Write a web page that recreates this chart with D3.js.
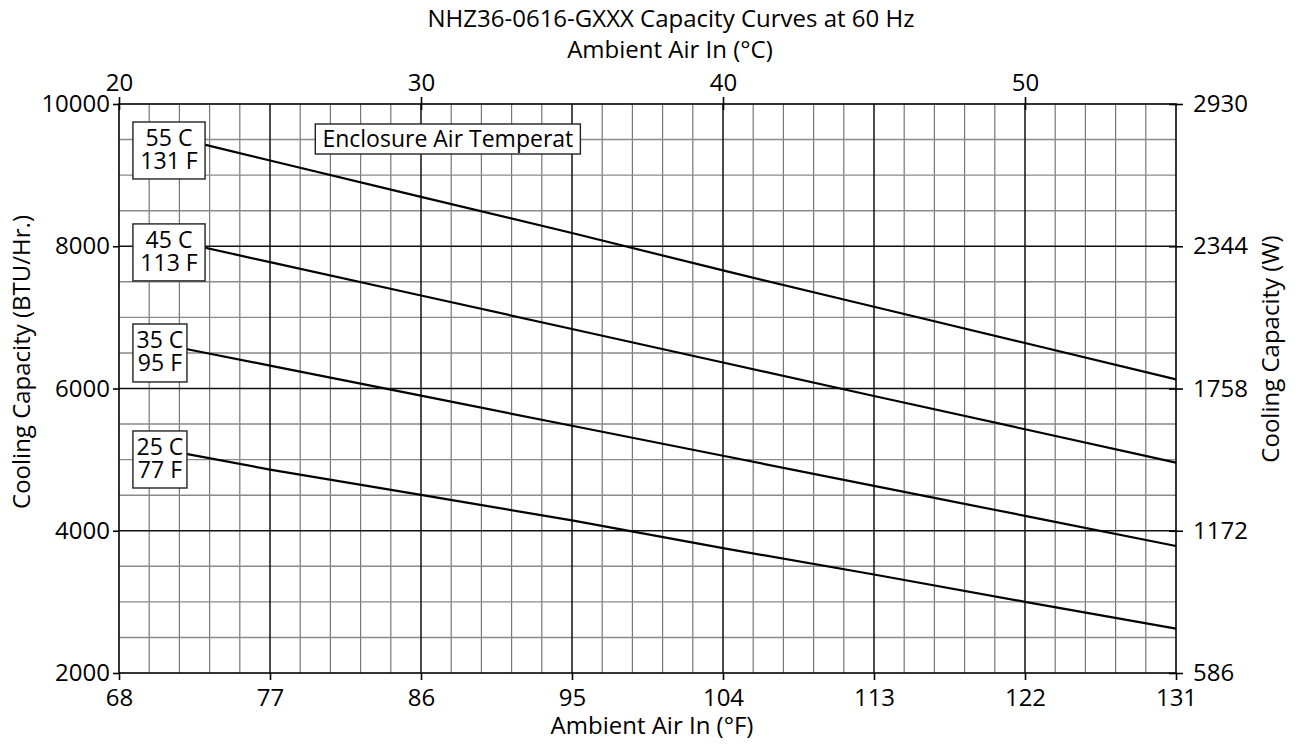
<!DOCTYPE html>
<html><head><meta charset="utf-8">
<script src="https://cdn.jsdelivr.net/npm/d3@7"></script>
<style>
body{margin:0;background:#fff;}
text{font-family:"Open Sans",sans-serif;fill:#000;}
</style></head>
<body><svg id="chart" width="1299" height="744"></svg>
<script>
// ---- data ----
const tempF = [72, 77, 86, 95, 104, 113, 122, 131];
const cap55C = [9492, 9205, 8695, 8186, 7660, 7150, 6640, 6129];
const cap45C = [8038, 7777, 7307, 6837, 6365, 5895, 5427, 4957];
const cap35C = [6556, 6321, 5899, 5476, 5054, 4631, 4209, 3786];
const cap25C = [5080, 4860, 4505, 4145, 3755, 3385, 3000, 2623];
const seriesNames = ["55 C|131 F", "45 C|113 F", "35 C|95 F", "25 C|77 F"];
const xTicksF = [68, 77, 86, 95, 104, 113, 122, 131];
const xTicksC = [20, 30, 40, 50];
const yTicksBTU = [2000, 4000, 6000, 8000, 10000];
const yTicksW = ["586", "1172", "1758", "2344", "2930"];
// label boxes in data units: [leftF, rightF, topBTU, bottomBTU]
const boxes = [
  [68.83, 73.13, 9747, 8946],
  [68.83, 73.13, 8314, 7513],
  [68.83, 72.05, 6907, 6092],
  [68.83, 72.05, 5403, 4601]
];
const noteText = "Enclosure Air Temperat";
const noteBox = [79.7, 95.5, 9719, 9297];

const svg = d3.select("#chart");
const L = 119, R = 1176, T = 104, B = 673;
const x = d3.scaleLinear().domain([68, 131]).range([L, R]);
const xC = d3.scaleLinear().domain([20, 55]).range([L, R]);
const y = d3.scaleLinear().domain([2000, 10000]).range([B, T]);
const yW = d3.scaleLinear().domain([586, 2930]).range([B, T]);

// minor grid
const g = svg.append("g");
const minorX = d3.range(0, 36).map(i => 68 + i * 1.8).filter((v, i) => i % 5 !== 0);
const minorY = d3.range(2000, 10001, 500).filter(v => v % 2000 !== 0);
g.selectAll(".mx").data(minorX).join("line")
  .attr("x1", d => x(d)).attr("x2", d => x(d)).attr("y1", T).attr("y2", B)
  .attr("stroke", "#777").attr("stroke-width", 1.2);
g.selectAll(".my").data(minorY).join("line")
  .attr("x1", L).attr("x2", R).attr("y1", d => y(d)).attr("y2", d => y(d))
  .attr("stroke", "#8a8a8a").attr("stroke-width", 1.4);
// major grid
g.selectAll(".Mx").data(xTicksF.slice(1, -1)).join("line")
  .attr("x1", d => x(d)).attr("x2", d => x(d)).attr("y1", T).attr("y2", B)
  .attr("stroke", "#111").attr("stroke-width", 1.5);
g.selectAll(".My").data(yTicksBTU.slice(1, -1)).join("line")
  .attr("x1", L).attr("x2", R).attr("y1", d => y(d)).attr("y2", d => y(d))
  .attr("stroke", "#111").attr("stroke-width", 1.5);
// frame
svg.append("rect").attr("x", L).attr("y", T).attr("width", R - L).attr("height", B - T)
  .attr("fill", "none").attr("stroke", "#111").attr("stroke-width", 1.7);

// axes
const fs = "24px";
const axB = svg.append("g").attr("transform", `translate(0,${B})`)
  .call(d3.axisBottom(x).tickValues(xTicksF).tickSize(7).tickPadding(9));
const axT = svg.append("g").attr("transform", `translate(0,${T})`)
  .call(d3.axisTop(xC).tickValues(xTicksC).tickSizeInner(7).tickSizeOuter(0).tickPadding(6));
axT.selectAll(".tick line").attr("y2", -7).attr("y1", 6);
const axL = svg.append("g").attr("transform", `translate(${L},0)`)
  .call(d3.axisLeft(y).tickValues(yTicksBTU).tickFormat(d3.format("d")).tickSize(6).tickPadding(3));
const axR = svg.append("g").attr("transform", `translate(${R},0)`)
  .call(d3.axisRight(yW).tickValues(yTicksW.map(Number)).tickFormat((d, i) => yTicksW[i]).tickSize(7).tickPadding(10));
axR.selectAll(".tick line").attr("x1", -7);
[axB, axT, axL, axR].forEach(a => {
  a.select(".domain").remove();
  a.selectAll(".tick line").attr("stroke", "#000").attr("stroke-width", 1.6);
  a.selectAll("text").style("font-size", fs).attr("font-family", "Open Sans");
});

// series
const series = [cap55C, cap45C, cap35C, cap25C];
const line = d3.line().x((d, i) => x(tempF[i])).y(d => y(d));
svg.selectAll(".curve").data(series).join("path")
  .attr("d", d => line(d)).attr("fill", "none").attr("stroke", "#000").attr("stroke-width", 2.2);

// label boxes
boxes.forEach((b, i) => {
  const x0 = x(b[0]), x1 = x(b[1]), y0 = y(b[2]), y1 = y(b[3]);
  svg.append("rect").attr("x", x0).attr("y", y0).attr("width", x1 - x0).attr("height", y1 - y0)
    .attr("fill", "#fff").attr("stroke", "#222").attr("stroke-width", 1.4);
  const parts = seriesNames[i].split("|");
  const cx = (x0 + x1) / 2;
  svg.append("text").attr("x", cx).attr("y", y0 + 24).attr("text-anchor", "middle").style("font-size", "23px").text(parts[0]);
  svg.append("text").attr("x", cx).attr("y", y0 + 47).attr("text-anchor", "middle").style("font-size", "23px").text(parts[1]);
});
{
  const x0 = x(noteBox[0]), x1 = x(noteBox[1]), y0 = y(noteBox[2]), y1 = y(noteBox[3]);
  svg.append("rect").attr("x", x0).attr("y", y0).attr("width", x1 - x0).attr("height", y1 - y0)
    .attr("fill", "#fff").attr("stroke", "#222").attr("stroke-width", 1.4);
  svg.append("text").attr("x", (x0 + x1) / 2).attr("y", y0 + 23).attr("text-anchor", "middle")
    .style("font-size", "23px").text(noteText);
}

// titles
svg.append("text").attr("x", 671).attr("y", 27).attr("text-anchor", "middle").style("font-size", fs)
  .text("NHZ36-0616-GXXX Capacity Curves at 60 Hz");
svg.append("text").attr("x", 670).attr("y", 58).attr("text-anchor", "middle").style("font-size", fs)
  .text("Ambient Air In (°C)");
svg.append("text").attr("x", 652).attr("y", 734).attr("text-anchor", "middle").style("font-size", fs)
  .text("Ambient Air In (°F)");
svg.append("text").attr("transform", "translate(30,362) rotate(-90)").attr("text-anchor", "middle").style("font-size", fs)
  .text("Cooling Capacity (BTU/Hr.)");
svg.append("text").attr("transform", "translate(1279,349) rotate(-90)").attr("text-anchor", "middle").style("font-size", fs)
  .text("Cooling Capacity (W)");
</script></body></html>
